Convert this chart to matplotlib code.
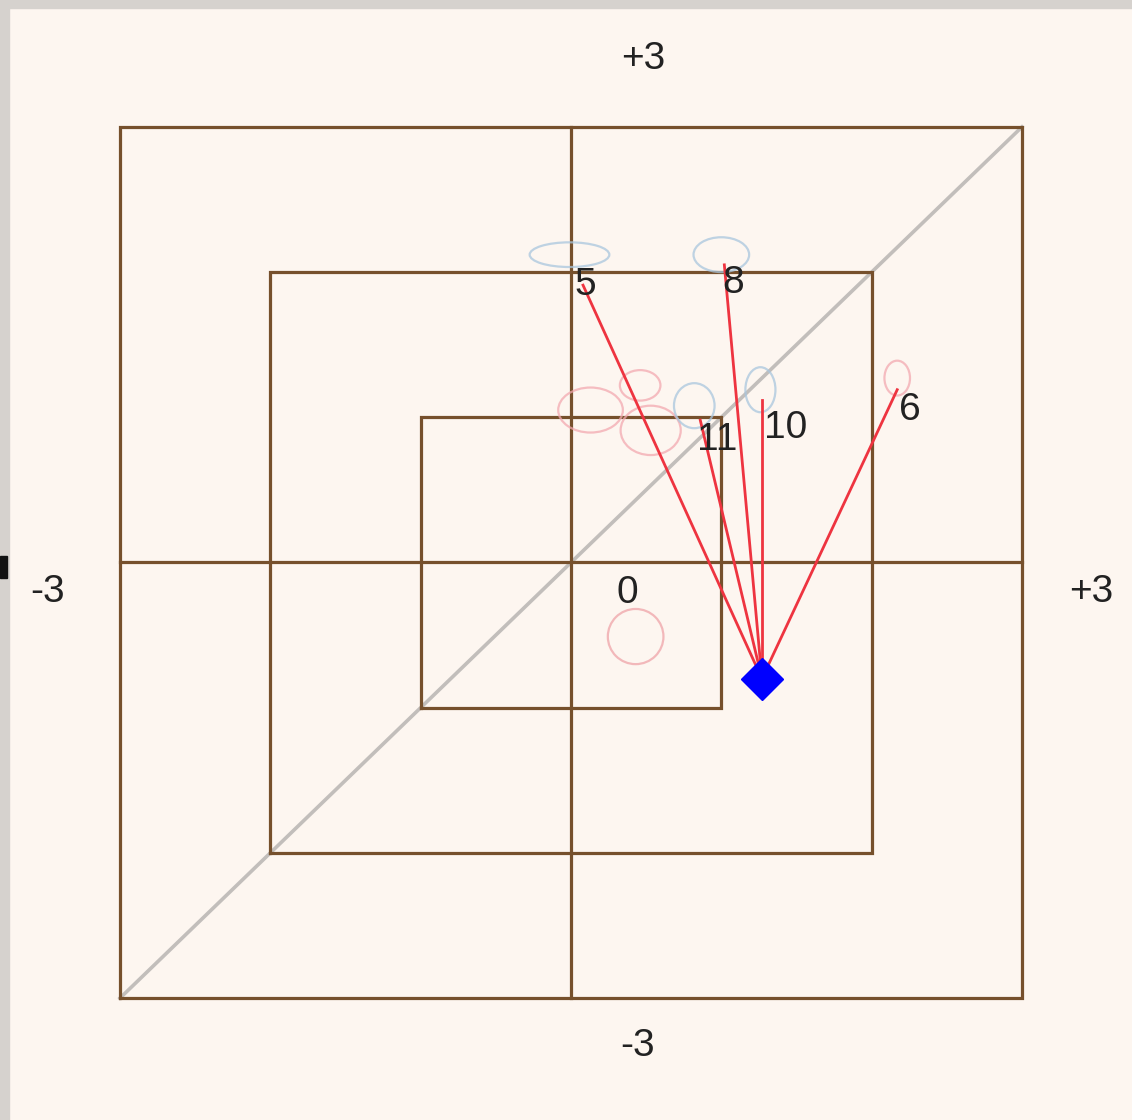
import matplotlib.pyplot as plt
from matplotlib.patches import Ellipse, Rectangle


# labelled points (red spokes run from the current position to each one)
point_labels = ["5", "8", "11", "10", "6"]
point_x = [0.08, 1.02, 0.86, 1.27, 2.17]
point_y = [1.91, 2.05, 0.98, 1.12, 1.19]

# unconnected point with its own label
lone_label = "0"
lone_x = 0.43
lone_y = -0.51

# current position (blue diamond)
current_x = 1.27
current_y = -0.80

# faint ghost markers left from earlier positions
ghost_x = [-0.01, 1.00, 0.13, 0.46, 0.53, 0.82, 1.26, 2.17]
ghost_y = [2.12, 2.12, 1.05, 1.22, 0.91, 1.08, 1.19, 1.27]
ghost_w = [0.53, 0.37, 0.43, 0.27, 0.40, 0.27, 0.20, 0.17]
ghost_h = [0.17, 0.24, 0.31, 0.21, 0.34, 0.31, 0.31, 0.24]
ghost_kind = ["blue", "blue", "pink", "pink", "pink", "blue", "blue", "pink"]

# nested squares and axis end labels
square_sizes = [1, 2, 3]
axis_limit = 3

BG = "#fdf6f0"
BROWN = "#76502c"
RED = "#ee3440"
TEXT = "#222222"
FONT = 28

# label offsets in pixels (dx right, dy up)
label_offsets = {
    "5": (2, 0),
    "8": (9, -18),
    "11": (17, -20),
    "10": (24, -28),
    "6": (13, -20),
}


def draw_frame(ax):
    for s in square_sizes:
        ax.plot([-s, s, s, -s, -s], [-s, -s, s, s, -s],
                color=BROWN, lw=2.3, solid_joinstyle="miter", zorder=2)
    ax.plot([-axis_limit, axis_limit], [-axis_limit, axis_limit],
            color="#c2bebb", lw=2.6, zorder=1)
    ax.plot([0, 0], [-axis_limit, axis_limit], color=BROWN, lw=2.3, zorder=2)
    ax.plot([-axis_limit, axis_limit], [0, 0], color=BROWN, lw=2.3, zorder=2)


def draw_axis_labels(ax):
    kw = dict(fontsize=FONT, color=TEXT, family="Liberation Sans",
              ha="center", va="center")
    ax.text(0.48, 3.47, "+3", **kw)
    ax.text(0.44, -3.33, "-3", **kw)
    ax.text(-3.48, -0.2, "-3", **kw)
    ax.text(3.46, -0.2, "+3", **kw)


def draw_ghosts(ax):
    colors = {"blue": "#a9c6de", "pink": "#f3a9b0"}
    for x, y, w, h, k in zip(ghost_x, ghost_y, ghost_w, ghost_h, ghost_kind):
        ax.add_patch(Ellipse((x, y), w, h, fill=False, ec=colors[k],
                             lw=1.6, alpha=0.75, zorder=3))
    ax.add_patch(Ellipse((lone_x, lone_y), 0.37, 0.38, fill=False,
                         ec="#f0a9ad", lw=1.6, alpha=0.8, zorder=3))


def draw_points(ax):
    for lab, x, y in zip(point_labels, point_x, point_y):
        ax.plot([current_x, x], [current_y, y], color=RED, lw=2.0, zorder=4)
        dx, dy = label_offsets[lab]
        ax.annotate(lab, (x, y), xytext=(dx * 0.72, dy * 0.72),
                    textcoords="offset points", fontsize=FONT, color=TEXT,
                    family="Liberation Sans", ha="center", va="center",
                    zorder=5)
    ax.annotate(lone_label, (lone_x, lone_y), xytext=(-8 * 0.72, 44 * 0.72),
                textcoords="offset points", fontsize=FONT, color=TEXT,
                family="Liberation Sans", ha="center", va="center", zorder=5)
    ax.plot(current_x, current_y, marker="D", ms=21, color="#0000ff",
            mec="#0000ff", zorder=6)


def main():
    fig = plt.figure(figsize=(11.32, 11.2), dpi=100, facecolor=BG)
    ax = fig.add_axes([0, 0, 1, 1])
    ax.set_facecolor(BG)

    # map data units onto the picture's pixel grid
    cx, sx = 571, 150.33
    cy, sy = 562.5, 145.2
    ax.set_xlim(-cx / sx, (1132 - cx) / sx)
    ax.set_ylim((cy - 1120) / sy, cy / sy)
    ax.axis("off")

    draw_frame(ax)
    draw_axis_labels(ax)
    draw_ghosts(ax)
    draw_points(ax)

    # window borders on the top and left edge
    fig.patches.append(Rectangle((0, 1 - 8 / 1120), 1, 8 / 1120,
                                 transform=fig.transFigure, color="#d6d2ce"))
    fig.patches.append(Rectangle((0, 0), 9 / 1132, 1,
                                 transform=fig.transFigure, color="#d6d2ce"))
    fig.patches.append(Rectangle((0, 1 - 578 / 1120), 7 / 1132, 22 / 1120,
                                 transform=fig.transFigure, color="#111111"))

    fig.savefig("out.png", dpi=100, facecolor=BG)
    plt.close(fig)


if __name__ == "__main__":
    main()
